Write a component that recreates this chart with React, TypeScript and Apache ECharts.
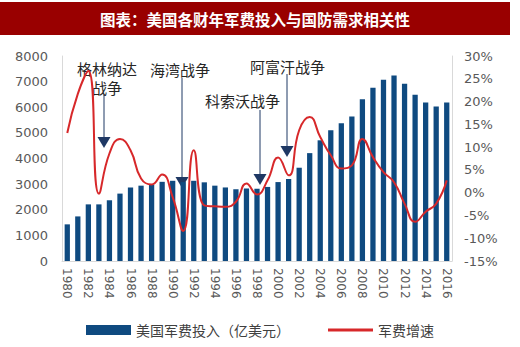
import React, { useEffect, useRef } from "react";
import * as echarts from "echarts";

const years = [
  "1980","1981","1982","1983","1984","1985","1986","1987","1988","1989",
  "1990","1991","1992","1993","1994","1995","1996","1997","1998","1999",
  "2000","2001","2002","2003","2004","2005","2006","2007","2008","2009",
  "2010","2011","2012","2013","2014","2015","2016",
];
const spending = [
  1430, 1740, 2210, 2210, 2370, 2630, 2870, 2940, 2980, 3090,
  3130, 3080, 3130, 3070, 2940, 2870, 2800, 2830, 2820, 2890,
  3080, 3200, 3640, 4210, 4710, 5100, 5380, 5640, 6310, 6760,
  7070, 7240, 6920, 6490, 6190, 6030, 6190,
];
const growth = [
  13.1, 21.7, 26.7, -0.2, 8.6, 11.8, 9.3, 3.1, 1.8, 4.0,
  -1.0, -8.4, 9.3, -2.8, -3.0, -3.1, -2.0, 2.0, -0.4, 2.7,
  7.7, 3.8, 13.7, 16.6, 12.2, 8.2, 5.3, 6.0, 11.8, 7.8,
  4.5, 2.3, -2.4, -6.4, -4.2, -2.4, 2.7,
];
const leftTicks = { min: 0, max: 8000, interval: 1000 };
const rightTicks = { min: -15, max: 30, interval: 5 };
const titleText = "图表：美国各财年军费投入与国防需求相关性";
const seriesNames = ["美国军费投入（亿美元）", "军费增速"];

const NAVY = "#1f3864";
const LINE_ICON =
  "path://M0,0 L0.001,0 Z M0,3.6 L45,3.6 L45,6.4 L0,6.4 Z M44.999,10 L45,10 Z";

function arrow(x: number, y1: number, y2: number) {
  return [
    { type: "line", shape: { x1: x, y1, x2: x, y2: y2 - 8 }, style: { stroke: NAVY, lineWidth: 1 } },
    {
      type: "polygon",
      shape: { points: [[x - 6.5, y2 - 11], [x + 6.5, y2 - 11], [x, y2]] },
      style: { fill: NAVY },
    },
  ];
}

function label(text: string, x: number, y: number) {
  return {
    type: "text",
    x,
    y,
    style: {
      text,
      fill: "#262626",
      font: "15px 'Noto Sans CJK SC', sans-serif",
      textAlign: "left",
      textVerticalAlign: "middle",
    },
  };
}

export default function App() {
  const ref = useRef<HTMLDivElement>(null);
  useEffect(() => {
    document.body.style.margin = "0";
    if (!ref.current) return;
    const chart = echarts.init(ref.current, undefined, { renderer: "svg" });
    const axisFont = { fontFamily: "DejaVu Sans", color: "#595959" };
    chart.setOption({
      animation: false,
      backgroundColor: "#fff",
      grid: { left: 62, right: 68, top: 56, bottom: 86 },
      legend: {
        top: 318,
        left: "center",
        itemWidth: 45,
        itemHeight: 10,
        itemGap: 38,
        textStyle: { fontFamily: "Noto Sans CJK SC", fontSize: 14, color: "#404040" },
        data: [
          { name: seriesNames[0], icon: "rect" },
          { name: seriesNames[1], icon: LINE_ICON, itemStyle: { color: "#d7282a" } },
        ],
      },
      xAxis: {
        type: "category",
        data: years,
        axisLine: { lineStyle: { color: "#d9d9d9" } },
        axisTick: { show: false },
        axisLabel: { interval: 1, rotate: -90, margin: 7, fontSize: 12, ...axisFont },
      },
      yAxis: [
        {
          type: "value",
          ...leftTicks,
          axisLine: { show: true, lineStyle: { color: "#d9d9d9" } },
          splitLine: { show: false },
          axisLabel: { fontSize: 13, margin: 14, formatter: (v: number) => String(v), ...axisFont },
        },
        {
          type: "value",
          ...rightTicks,
          axisLine: { show: true, lineStyle: { color: "#d9d9d9" } },
          splitLine: { show: false },
          axisLabel: { fontSize: 13, margin: 12, formatter: "{value}%", ...axisFont },
        },
      ],
      series: [
        {
          name: seriesNames[0],
          type: "bar",
          data: spending,
          barWidth: "50%",
          itemStyle: { color: "#0f4a80" },
        },
        {
          name: seriesNames[1],
          type: "line",
          yAxisIndex: 1,
          data: growth,
          smooth: 0.5,
          symbol: "none",
          lineStyle: { color: "#d7282a", width: 2 },
          itemStyle: { color: "#d7282a" },
          z: 3,
        },
      ],
      graphic: [
        { type: "rect", shape: { x: 0, y: 2, width: 510, height: 33 }, style: { fill: "#990000" } },
        {
          type: "text",
          x: 255,
          y: 19,
          style: {
            text: titleText,
            fill: "#fff",
            font: "bold 15.5px 'Noto Sans CJK SC', sans-serif",
            textAlign: "center",
            textVerticalAlign: "middle",
          },
        },
        label("格林纳达", 77, 68),
        label("战争", 92, 87),
        label("海湾战争", 150, 69),
        label("科索沃战争", 205, 100),
        label("阿富汗战争", 250, 66),
        ...arrow(104, 95, 148),
        ...arrow(182, 78, 188),
        ...arrow(260, 110, 185),
        ...arrow(287, 74, 157),
      ],
    });
    return () => chart.dispose();
  }, []);
  return <div ref={ref} style={{ width: 520, height: 347 }} />;
}
